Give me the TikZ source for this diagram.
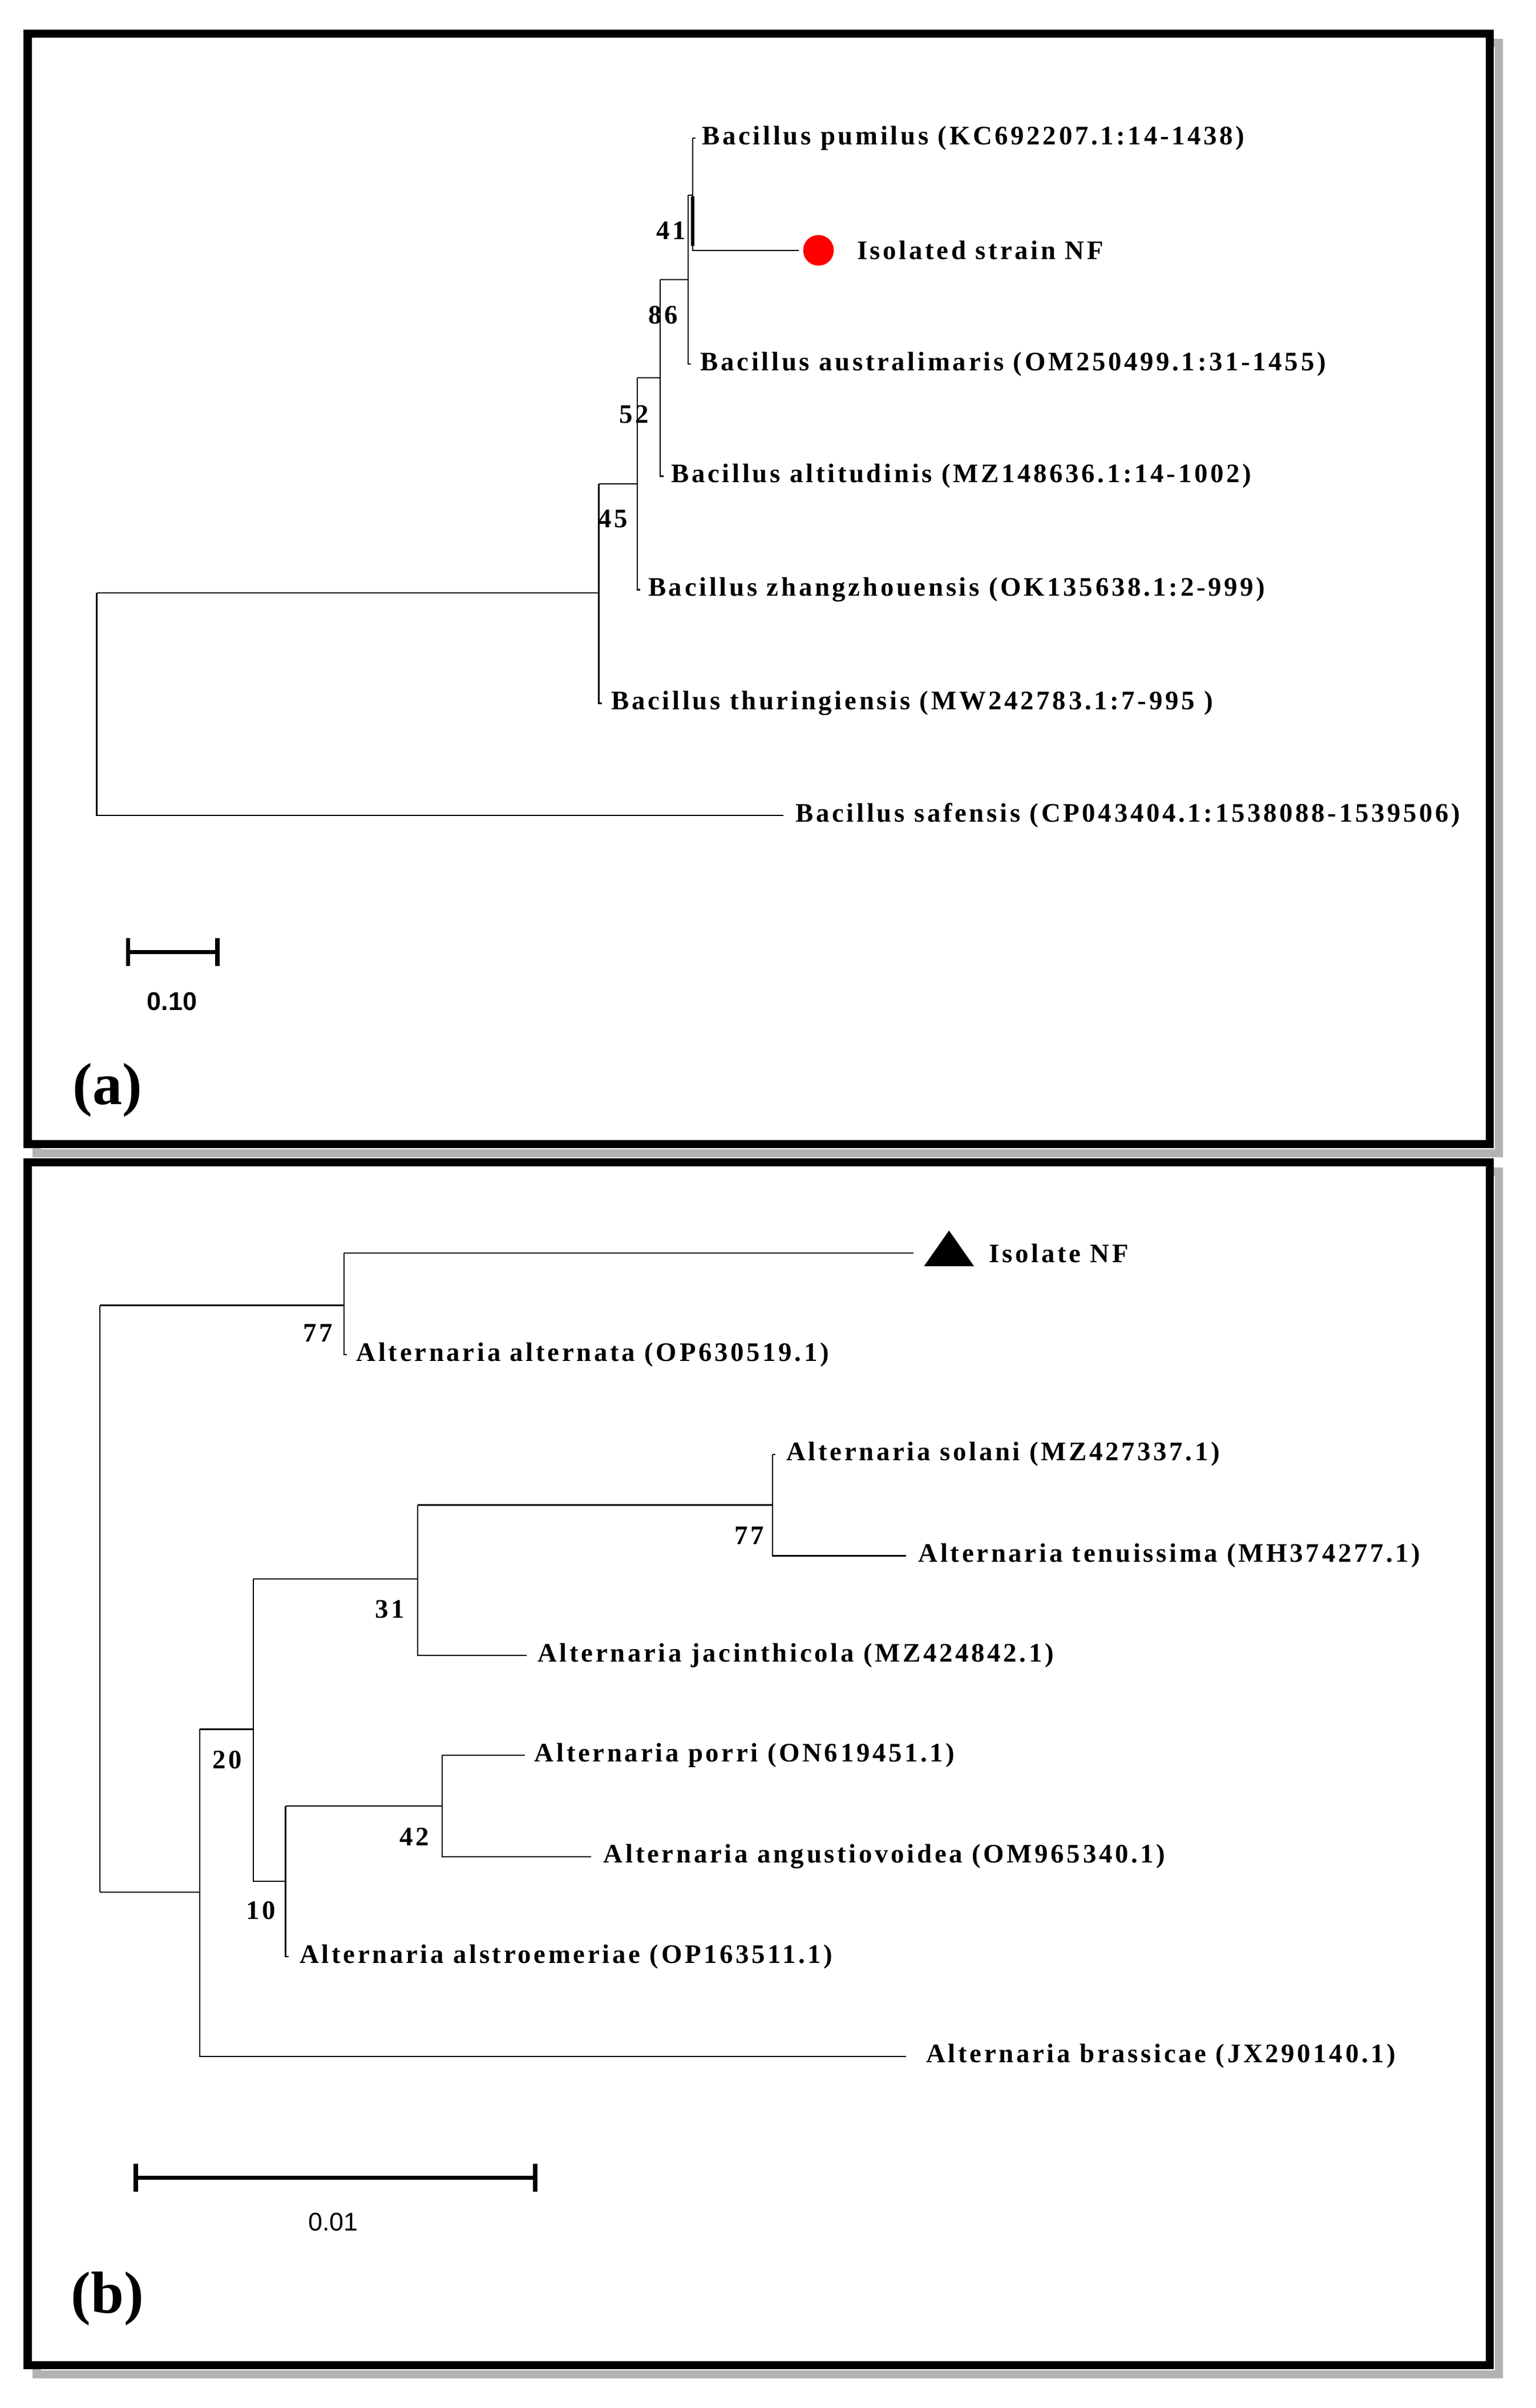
\documentclass[tikz,border=0pt]{standalone}
\usepackage{fontspec}
\setmainfont{Liberation Serif}
\setsansfont{Liberation Sans}
\newfontfamily\treefont{Liberation Serif}[LetterSpace=10]
\usetikzlibrary{shapes.geometric}
\begin{document}
\begin{tikzpicture}[x=0.02cm,y=-0.02cm,
    branch/.style={draw=black,line width=0.5pt},
    frame/.style={draw=black,fill=white,line width=3pt},
    shadow/.style={draw=gray!60,line width=3pt},
    taxon/.style={anchor=west,font=\treefont\fontsize{9.9}{11}\selectfont\bfseries,inner sep=1pt},
    boot/.style={font=\treefont\fontsize{9.9}{11}\selectfont\bfseries,inner sep=1pt},
    panel/.style={font=\fontsize{22}{24}\selectfont\bfseries},
    barlabel/.style={font=\sffamily\fontsize{9.5}{11}\selectfont},
    bar/.style={line width=1.6pt,|-|},
]
\useasboundingbox (0,0) rectangle (1000,1568);
\fill[white] (0,0) rectangle (1000,1568);

%%%
% frames
\draw[shadow] (24,28) rectangle (976,751);
\draw[frame] (18,22) rectangle (970,745);
\draw[shadow] (24,763) rectangle (976,1546);
\draw[frame] (18,757) rectangle (970,1540);

%%%
% (a) Bacillus tree
\coordinate (aRoot) at (63,386);
\coordinate (a45) at (390,386);
\coordinate (a52) at (415,315);
\coordinate (a86) at (430,246);
\coordinate (a41) at (448,182);
\coordinate (aNF) at (451,127);
\draw[branch] (63,386) |- (510,531);
\draw[branch] (aRoot) -- (a45);
\draw[branch] (390,315) -- (390,458) -- (392,458);
\draw[branch] (390,315) -- (a52);
\draw[branch] (415,246) -- (415,384) -- (417,384);
\draw[branch] (415,246) -- (a86);
\draw[branch] (430,182) -- (430,310) -- (432,310);
\draw[branch] (430,182) -- (a41);
\draw[branch] (448,127) -- (448,237) -- (450,237);
\draw[branch] (448,127) -- (aNF);
\draw[branch] (451,90) -- (451,163) -- (520,163);
\draw[branch] (451,90) -- (453,90);
\draw[line width=1.2pt] (451,128) -- (451,160);
\node[circle,fill=red,minimum size=0.4cm,inner sep=0pt] (dotNF) at (533,163) {};
\node[taxon] (pumilus) at (455,90) {Bacillus pumilus (KC692207.1:14-1438)};
\node[taxon] (isoNF) at (556,163) {Isolated strain NF};
\node[taxon] (austral) at (454,237) {Bacillus australimaris (OM250499.1:31-1455)};
\node[taxon] (altit) at (435,310) {Bacillus altitudinis (MZ148636.1:14-1002)};
\node[taxon] (zhang) at (420,384) {Bacillus zhangzhouensis (OK135638.1:2-999)};
\node[taxon] (thur) at (396,458) {Bacillus thuringiensis (MW242783.1:7-995 )};
\node[taxon] (safen) at (516,531) {Bacillus safensis (CP043404.1:1538088-1539506)};
\node[boot] (b41) at (437,150) {41};
\node[boot] (b86) at (432,205) {86};
\node[boot] (b52) at (413,270) {52};
\node[boot] (b45) at (399,338) {45};
\draw[bar] (82,620) -- (143,620);
\node[barlabel,font=\sffamily\bfseries\fontsize{9.5}{11}\selectfont] (sa) at (112,652) {0.10};
\node[panel] (pa) at (70,710) {(a)};

%%%
% (b) Alternaria tree
\draw[branch] (65,850) -- (65,1232);
\draw[branch] (65,850) -- (224,850);
\draw[branch] (224,816) -- (224,882) -- (226,882);
\draw[branch] (224,816) -- (595,816);
\node[isosceles triangle,shape border rotate=90,isosceles triangle apex angle=70,fill=black,minimum width=0.65cm,minimum height=0.4cm,inner sep=0pt] (triNF) at (618,816) {};
\draw[branch] (65,1232) -- (130,1232);
\draw[branch] (130,1126) -- (130,1339) -- (590,1339);
\draw[branch] (130,1126) -- (165,1126);
\draw[branch] (165,1028) -- (165,1225) -- (186,1225);
\draw[branch] (165,1028) -- (272,1028);
\draw[branch] (272,980) -- (272,1078) -- (343,1078);
\draw[branch] (272,980) -- (503,980);
\draw[branch] (503,947) -- (503,1013) -- (590,1013);
\draw[branch] (503,947) -- (505,947);
\draw[branch] (186,1176) -- (186,1274) -- (188,1274);
\draw[branch] (186,1176) -- (288,1176);
\draw[branch] (288,1143) -- (288,1209) -- (385,1209);
\draw[branch] (288,1143) -- (342,1143);
\node[taxon] (isoB) at (642,816) {Isolate NF};
\node[taxon] (altern) at (230,882) {Alternaria alternata (OP630519.1)};
\node[taxon] (solani) at (510,947) {Alternaria solani (MZ427337.1)};
\node[taxon] (tenu) at (596,1013) {Alternaria tenuissima (MH374277.1)};
\node[taxon] (jacin) at (348,1078) {Alternaria jacinthicola (MZ424842.1)};
\node[taxon] (porri) at (346,1143) {Alternaria porri (ON619451.1)};
\node[taxon] (angus) at (391,1209) {Alternaria angustiovoidea (OM965340.1)};
\node[taxon] (alstro) at (193,1274) {Alternaria alstroemeriae (OP163511.1)};
\node[taxon] (brass) at (601,1339) {Alternaria brassicae (JX290140.1)};
\node[boot] (c77a) at (207,868) {77};
\node[boot] (c77b) at (488,1000) {77};
\node[boot] (c31) at (254,1048) {31};
\node[boot] (c20) at (148,1146) {20};
\node[boot] (c42) at (270,1196) {42};
\node[boot] (c10) at (170,1244) {10};
\draw[bar] (87,1418) -- (350,1418);
\node[barlabel] (sb) at (217,1447) {0.01};
\node[panel] (pb) at (70,1497) {(b)};
\end{tikzpicture}
\end{document}
